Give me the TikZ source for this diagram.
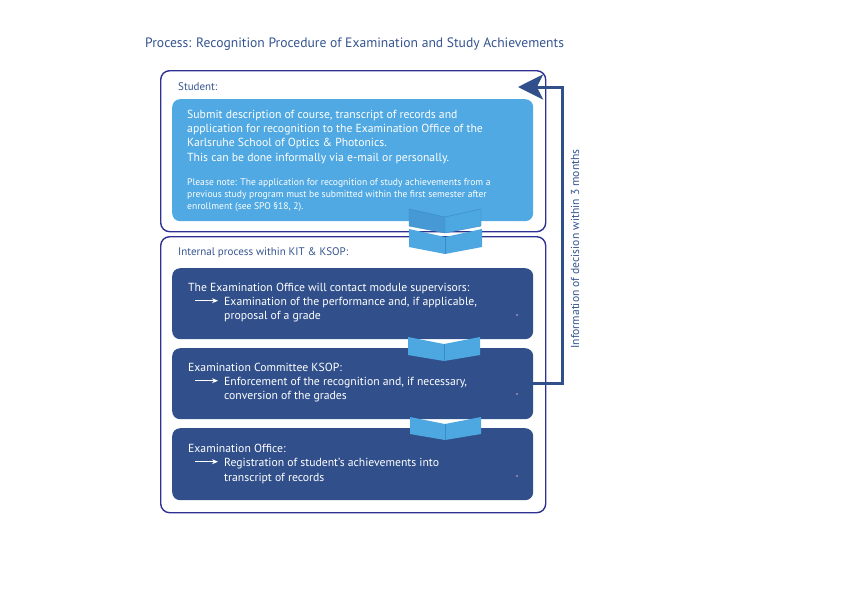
\documentclass[tikz,border=0pt]{standalone}
\usepackage{fontspec}
\setmainfont{PT Sans}
\usepackage{xcolor}
\usepackage{tikz}
\usetikzlibrary{arrows.meta,calc}

\definecolor{ksopindigo}{HTML}{2E3192}
\definecolor{ksopdark}{HTML}{31508B}
\definecolor{ksoplight}{HTML}{50A9E2}
\definecolor{ksopchev}{HTML}{4DA7E1}
\definecolor{ksopchevdark}{HTML}{4699D5}
\definecolor{ksopedge}{HTML}{3A8BC8}
\definecolor{ksoptext}{HTML}{34548F}
\definecolor{ksoppink}{HTML}{E9A3C4}

\begin{document}
\begin{tikzpicture}[x=1pt, y=-1pt, >=Stealth,
  outerbox/.style={draw=ksopindigo, line width=1.4pt, rounded corners=9pt,
    anchor=north west, inner sep=0pt},
  lightbox/.style={fill=ksoplight, rounded corners=8pt, anchor=north west, inner sep=0pt},
  darkbox/.style={fill=ksopdark, rounded corners=8pt, anchor=north west, inner sep=0pt},
  boxhead/.style={anchor=base west, inner sep=0pt, text=ksoptext,
    font=\fontsize{11}{13}\selectfont},
  bodytext/.style={anchor=base west, inner sep=0pt, text=white,
    font=\fontsize{11.7}{14}\selectfont},
  notetext/.style={anchor=base west, inner sep=0pt, text=white,
    font=\fontsize{9.6}{12}\selectfont},
  itemarrow/.style={white, line width=0.8pt, -{Stealth[length=6pt,width=5pt]}},
  chev/.style={fill=ksopchev},
  chevline/.style={draw=ksopedge, line width=0.5pt},
  feedback/.style={draw=ksopdark, line width=3pt,
    -{Stealth[length=25pt,width=25pt,inset=6pt]}}]
\useasboundingbox (0,0) rectangle (842,595);

%--- Title ---
\node[anchor=base west, inner sep=0pt, text=ksoptext, font=\fontsize{13.6}{16}\selectfont]
  (title) at (145,47) {Process: Recognition Procedure of Examination and Study Achievements};

%--- Frames ---
\node[outerbox, minimum width=385, minimum height=161] (student) at (160,70) {};
\node[outerbox, minimum width=385, minimum height=276] (internal) at (160,236) {};

% Student part
\node[boxhead] (studhead) at (178,90) {Student:};
\node[lightbox, minimum width=361, minimum height=122] (submit) at (172,99) {};
\node[bodytext] (sub1) at (187,118) {Submit description of course, transcript of records and};
\node[bodytext] (sub2) at (187,132) {application for recognition to the Examination Office of the};
\node[bodytext] (sub3) at (187,146) {Karlsruhe School of Optics \& Photonics.};
\node[bodytext] (sub4) at (187,161) {This can be done informally via e-mail or personally.};
\node[notetext] (note1) at (187,185) {Please note: The application for recognition of study achievements from a};
\node[notetext] (note2) at (187,197) {previous study program must be submitted within the first semester after};
\node[notetext] (note3) at (187,209) {enrollment (see SPO §18, 2).};

% Internal part
\node[boxhead] (inthead) at (178,255) {Internal process within KIT \& KSOP:};
\node[darkbox, minimum width=361, minimum height=71] (boxA) at (172,268) {};
\node[darkbox, minimum width=361, minimum height=71] (boxB) at (172,348) {};
\node[darkbox, minimum width=361, minimum height=72] (boxC) at (172,428) {};

\node[bodytext] (headA) at (188,291) {The Examination Office will contact module supervisors:};
\node[bodytext] (itemA) at (224,305) {Examination of the performance and, if applicable,};
\node[bodytext] (itemA2) at (224,319) {proposal of a grade};
\draw[itemarrow] ($(itemA.base west)+(-29,-4.3)$) -- ++(23,0);

\node[bodytext] (headB) at (188,371) {Examination Committee KSOP:};
\node[bodytext] (itemB) at (224,385) {Enforcement of the recognition and, if necessary,};
\node[bodytext] (itemB2) at (224,399) {conversion of the grades};
\draw[itemarrow] ($(itemB.base west)+(-29,-4.3)$) -- ++(23,0);

\node[bodytext] (headC) at (188,452) {Examination Office:};
\node[bodytext] (itemC) at (224,466) {Registration of student's achievements into};
\node[bodytext] (itemC2) at (224,481) {transcript of records};
\draw[itemarrow] ($(itemC.base west)+(-29,-4.3)$) -- ++(23,0);

% small marks
\fill[ksoppink] (517,315) circle (0.8);
\fill[ksoppink] (517,394) circle (0.8);
\fill[ksoppink] (517,476) circle (0.8);

%--- Chevrons ---
\fill[ksopchevdark] (409,209) -- ++(36,8) -- ++(0,16) -- ++(-36,-7) -- cycle;
\fill[ksopchev] (445,217) -- ++(36,-8) -- ++(0,17) -- ++(-36,7) -- cycle;
\draw[ksopedge, line width=0.4pt] (409,209) -- ++(36,8) -- ++(36,-8) -- ++(0,17) -- ++(-36,7) -- ++(-36,-7) -- cycle
  (445,217) -- ++(0,16);
\fill[chev] (409,229) -- ++(36,8) -- ++(37,-8) -- ++(0,18) -- ++(-37,7) -- ++(-36,-7) -- cycle;
\draw[chevline] (445,237) -- ++(0,17);
\fill[chev] (408,337) -- ++(36,7) -- ++(36,-7) -- ++(0,18) -- ++(-36,6) -- ++(-36,-6) -- cycle;
\draw[chevline] (444,344) -- ++(0,17);
\fill[chev] (410,417) -- ++(35,7) -- ++(36,-7) -- ++(0,17) -- ++(-36,6) -- ++(-35,-6) -- cycle;
\draw[chevline] (445,424) -- ++(0,16);

%--- Feedback loop ---
\coordinate (fbtip) at (518,87);
\draw[feedback] (boxB.east) -- ++(29,0) |- (fbtip);
\node[rotate=90, inner sep=0pt, text=ksoptext, font=\fontsize{11.6}{13}\selectfont]
  (fbnote) at (575,249) {Information of decision within 3 months};
\end{tikzpicture}
\end{document}
